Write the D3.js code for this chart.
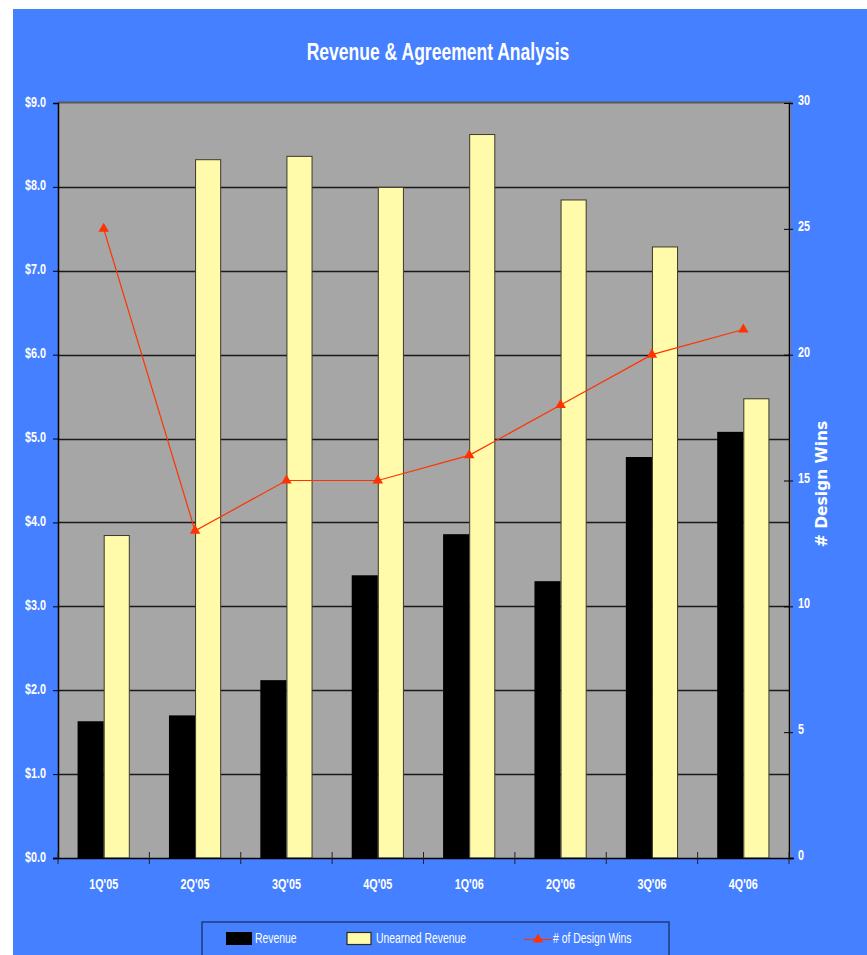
<!DOCTYPE html>
<html>
<head>
<meta charset="utf-8">
<script src="https://cdn.jsdelivr.net/npm/d3@7"></script>
<style>
  html, body { margin: 0; padding: 0; background: #ffffff; }
  svg { display: block; }
  .narrow { font-family: "Liberation Sans Narrow", "Arial Narrow", "Liberation Sans", Arial, sans-serif; }
</style>
</head>
<body>
<svg id="chart" width="867" height="955"></svg>
<script>
// Quarterly figures
const quarters = ["1Q'05", "2Q'05", "3Q'05", "4Q'05", "1Q'06", "2Q'06", "3Q'06", "4Q'06"];
const revenue = [1.63, 1.70, 2.12, 3.37, 3.86, 3.30, 4.78, 5.08];
const unearnedRevenue = [3.85, 8.33, 8.37, 8.00, 8.63, 7.85, 7.29, 5.48];
const designWins = [25, 13, 15, 15, 16, 18, 20, 21];
const leftTicks = [0, 1, 2, 3, 4, 5, 6, 7, 8, 9];
const rightTicks = [0, 5, 10, 15, 20, 25, 30];
const seriesNames = ["Revenue", "Unearned Revenue", "# of Design Wins"];

const svg = d3.select("#chart");
const BLUE = "#4480ff";
const PLOT_GRAY = "#a6a6a6";
const YELLOW = "#fffbaa";
const RED = "#ff3300";

// Squeeze text horizontally to give a narrow-face look
function condense(sel, factor) {
  sel.each(function () {
    const w = this.getComputedTextLength();
    d3.select(this).attr("textLength", w * factor).attr("lengthAdjust", "spacingAndGlyphs");
  });
}

// Frame
svg.append("rect").attr("x", 13).attr("y", 9).attr("width", 854).attr("height", 946).attr("fill", BLUE);

const plot = { left: 58, right: 789, top: 103, bottom: 858 };

const x = d3.scaleBand().domain(quarters).range([plot.left, plot.right]).paddingInner(0).paddingOuter(0);
const yL = d3.scaleLinear().domain([0, 9]).range([plot.bottom, plot.top]);
const yR = d3.scaleLinear().domain([0, 30]).range([plot.bottom, plot.top]);
const barW = x.bandwidth() / 3.5;

// Plot area
svg.append("rect")
  .attr("x", plot.left).attr("y", plot.top - 1)
  .attr("width", plot.right - plot.left + 2).attr("height", plot.bottom - plot.top + 1)
  .attr("fill", PLOT_GRAY);
svg.append("line")
  .attr("x1", plot.left).attr("x2", plot.right + 2)
  .attr("y1", plot.top - 0.5).attr("y2", plot.top - 0.5)
  .attr("stroke", "#5a5a5a").attr("stroke-width", 2);

// Horizontal gridlines
svg.append("g").selectAll("line")
  .data(leftTicks.filter(d => d > 0 && d < 9))
  .join("line")
  .attr("x1", plot.left).attr("x2", plot.right)
  .attr("y1", d => Math.round(yL(d)) + 0.5).attr("y2", d => Math.round(yL(d)) + 0.5)
  .attr("stroke", "#1a1a1a").attr("stroke-width", 1.3);

// Bars
const groups = svg.append("g").selectAll("g")
  .data(quarters)
  .join("g")
  .attr("transform", d => `translate(${x(d) + x.bandwidth() / 2},0)`);

groups.append("rect")
  .attr("x", -barW).attr("width", barW)
  .attr("y", (d, i) => yL(revenue[i]))
  .attr("height", (d, i) => yL(0) - yL(revenue[i]))
  .attr("fill", "#000000");

groups.append("rect")
  .attr("x", 0.5).attr("width", barW - 1)
  .attr("y", (d, i) => yL(unearnedRevenue[i]) + 0.5)
  .attr("height", (d, i) => yL(0) - yL(unearnedRevenue[i]) - 0.5)
  .attr("fill", YELLOW).attr("stroke", "#3a3a2a").attr("stroke-width", 1);

// Design wins line
const line = d3.line()
  .x((d, i) => x(quarters[i]) + x.bandwidth() / 2)
  .y(d => yR(d));
svg.append("path")
  .datum(designWins)
  .attr("d", line)
  .attr("fill", "none").attr("stroke", RED).attr("stroke-width", 1.2);

const tri = d3.symbol().type(d3.symbolTriangle).size(48);
svg.append("g").selectAll("path")
  .data(designWins)
  .join("path")
  .attr("d", tri)
  .attr("transform", (d, i) => `translate(${x(quarters[i]) + x.bandwidth() / 2},${yR(d)})`)
  .attr("fill", RED);

// Left axis
const leftAxis = d3.axisLeft(yL).tickValues(leftTicks).tickSize(5).tickPadding(7)
  .tickFormat(d => "$" + d3.format(".1f")(d));
const gL = svg.append("g").attr("transform", `translate(${plot.left},0)`).call(leftAxis);
gL.select(".domain").attr("stroke", "#000").attr("stroke-width", 1.5);
gL.selectAll(".tick line").attr("stroke", "#000");
gL.selectAll(".tick text")
  .attr("class", "narrow").attr("fill", "#ffffff")
  .style("font-size", "15px").style("font-weight", "bold").attr("dy", "0.2em")
  .call(condense, 0.72);

// Right axis
const rightAxis = d3.axisRight(yR).tickValues(rightTicks).tickSize(4).tickPadding(5);
const gR = svg.append("g").attr("transform", `translate(${plot.right},0)`).call(rightAxis);
gR.select(".domain").attr("stroke", "#000").attr("stroke-width", 1.5);
gR.selectAll(".tick line").attr("stroke", "#000").attr("x1", -5);
gR.selectAll(".tick text")
  .attr("class", "narrow").attr("fill", "#ffffff")
  .style("font-size", "15px").style("font-weight", "bold").attr("dy", "0.1em")
  .call(condense, 0.72);

// Bottom axis: ticks between categories, labels centred in each band
svg.append("line")
  .attr("x1", plot.left - 5).attr("x2", plot.right + 5)
  .attr("y1", plot.bottom + 0.5).attr("y2", plot.bottom + 0.5)
  .attr("stroke", "#000").attr("stroke-width", 1.5);
const boundaries = d3.range(quarters.length + 1).map(i => plot.left + i * x.step());
svg.append("g").selectAll("line")
  .data(boundaries)
  .join("line")
  .attr("x1", d => d).attr("x2", d => d)
  .attr("y1", plot.bottom - 6).attr("y2", plot.bottom + 6)
  .attr("stroke", "#222").attr("stroke-width", 1);
svg.append("g").selectAll("text")
  .data(quarters)
  .join("text")
  .attr("class", "narrow")
  .attr("x", d => x(d) + x.bandwidth() / 2)
  .attr("y", 889)
  .attr("text-anchor", "middle")
  .attr("fill", "#ffffff")
  .style("font-size", "15px").style("font-weight", "bold")
  .text(d => d)
  .call(condense, 0.72);

// Title
svg.append("text")
  .attr("class", "narrow")
  .attr("x", 438).attr("y", 60)
  .attr("text-anchor", "middle")
  .attr("fill", "#ffffff")
  .style("font-size", "24px").style("font-weight", "bold")
  .text("Revenue & Agreement Analysis")
  .call(condense, 0.73);

// Right axis title
svg.append("text")
  .attr("transform", "translate(827,484) rotate(-90)")
  .attr("text-anchor", "middle")
  .attr("fill", "#ffffff")
  .style("font-family", "'DejaVu Sans', Verdana, sans-serif")
  .style("font-size", "15.5px").style("font-weight", "bold")
  .text("# Design Wins");

// Legend
const legend = svg.append("g");
legend.append("rect")
  .attr("x", 202).attr("y", 922).attr("width", 467).attr("height", 40)
  .attr("fill", BLUE).attr("stroke", "#1f3b7a").attr("stroke-width", 1.5);
legend.append("rect")
  .attr("x", 226).attr("y", 932).attr("width", 26).attr("height", 13).attr("fill", "#000");
legend.append("rect")
  .attr("x", 347).attr("y", 932.5).attr("width", 24).attr("height", 12)
  .attr("fill", YELLOW).attr("stroke", "#2a2a20").attr("stroke-width", 1.2);
legend.append("line")
  .attr("x1", 524).attr("x2", 552).attr("y1", 939.5).attr("y2", 939.5)
  .attr("stroke", RED).attr("stroke-width", 1.2);
legend.append("path")
  .attr("d", tri).attr("transform", "translate(538,939.5)").attr("fill", RED);
const legendX = [255, 376, 553];
legend.selectAll("text")
  .data(seriesNames)
  .join("text")
  .attr("class", "narrow")
  .attr("x", (d, i) => legendX[i]).attr("y", 943)
  .attr("fill", "#ffffff")
  .style("font-size", "15.5px")
  .text(d => d)
  .call(condense, 0.67);
</script>
</body>
</html>
